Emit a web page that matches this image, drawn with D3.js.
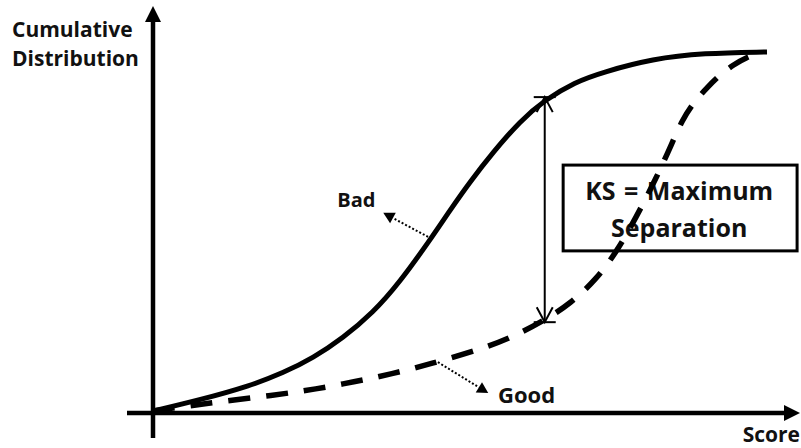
<!DOCTYPE html>
<html>
<head>
<meta charset="utf-8">
<script src="https://cdn.jsdelivr.net/npm/d3@7"></script>
<style>
  body { margin: 0; background: #fff; }
  text { font-family: "Open Sans", "DejaVu Sans", sans-serif; font-weight: bold; fill: #111; }
</style>
</head>
<body>
<script>
// Cumulative distribution of "Bad" accounts (solid line)
var badScore = [0, 7.65, 15.8, 21.2, 26.1, 30.9, 35.8, 40.2, 45.1, 48.4, 51.6, 55.4, 59.8, 63.8, 68.7, 73.3, 81.4, 89.6, 100];
var badCum   = [0, 0.031, 0.070, 0.106, 0.148, 0.203, 0.273, 0.359, 0.476, 0.560, 0.638, 0.721, 0.808, 0.866, 0.916, 0.944, 0.981, 0.997, 1.0];

// Cumulative distribution of "Good" accounts (dashed line)
var goodScore = [0, 7.65, 20.2, 26.5, 32.7, 38.9, 45.1, 53.7, 59.3, 63.8, 67.9, 72.3, 75.6, 78.8, 81.4, 83.7, 86.3, 88.3, 90.2, 92.3, 94.5, 96.7, 98.9];
var goodCum   = [0, 0.019, 0.045, 0.061, 0.081, 0.103, 0.131, 0.173, 0.212, 0.253, 0.298, 0.368, 0.446, 0.543, 0.630, 0.713, 0.816, 0.864, 0.900, 0.936, 0.964, 0.986, 0.997];

// Score where the two curves are farthest apart
var ksScore = 63.8;
var ksBad = 0.866;
var ksGood = 0.253;

// Texts
var yLabel = ["Cumulative", "Distribution"];
var xLabel = "Score";
var ksLabel = ["KS = Maximum", "Separation"];

var w = 801;
var h = 448;

var svg = d3.select("body")
    .append("svg")
    .attr("width", w)
    .attr("height", h);

// Scales: score 0..100 and cumulative 0..1
var xScale = d3.scaleLinear()
    .domain([0, 100])
    .range([153, 767]);
var yScale = d3.scaleLinear()
    .domain([0, 1])
    .range([411, 52]);

// Axes with filled arrow heads
var axisX = xScale(0);
var axisY = yScale(0) + 2;

svg.append("line")
    .attr("x1", axisX).attr("y1", 438)
    .attr("x2", axisX).attr("y2", 20)
    .attr("stroke", "#000").attr("stroke-width", 4.5);
svg.append("path")
    .attr("d", "M" + axisX + ",6 L" + (axisX - 8) + ",22 L" + (axisX + 8) + ",22 Z")
    .attr("fill", "#000");

svg.append("line")
    .attr("x1", 127).attr("y1", axisY)
    .attr("x2", 786).attr("y2", axisY)
    .attr("stroke", "#000").attr("stroke-width", 4.5);
svg.append("path")
    .attr("d", "M800," + axisY + " L784," + (axisY - 8) + " L784," + (axisY + 8) + " Z")
    .attr("fill", "#000");

// Axis labels
svg.selectAll(".ylabel")
    .data(yLabel)
    .enter().append("text")
    .attr("class", "ylabel")
    .attr("x", 12)
    .attr("y", function(d, i) { return 37 + i * 29; })
    .style("font-size", "21px")
    .text(function(d) { return d; });

svg.append("text")
    .attr("x", 800)
    .attr("y", 442)
    .attr("text-anchor", "end")
    .style("font-size", "21px")
    .text(xLabel);

// KS box (drawn before the curves, the dashed line runs over it)
svg.append("rect")
    .attr("x", xScale(66.8))
    .attr("y", yScale(0.685))
    .attr("width", xScale(104.9) - xScale(66.8))
    .attr("height", yScale(0.446) - yScale(0.685))
    .attr("fill", "none")
    .attr("stroke", "#000")
    .attr("stroke-width", 3);

svg.selectAll(".kslabel")
    .data(ksLabel)
    .enter().append("text")
    .attr("class", "kslabel")
    .attr("x", xScale(85.7))
    .attr("y", function(d, i) { return i == 0 ? yScale(0.588) : yScale(0.485); })
    .attr("text-anchor", "middle")
    .style("font-size", "25px")
    .style("word-spacing", "2px")
    .text(function(d) { return d; });

// Curves
var line = d3.line()
    .x(function(d) { return xScale(d[0]); })
    .y(function(d) { return yScale(d[1]); })
    .curve(d3.curveBasis);

var goodData = goodScore.map(function(s, i) { return [s, goodCum[i]]; });
var badData = badScore.map(function(s, i) { return [s, badCum[i]]; });

svg.append("path")
    .datum(goodData)
    .attr("d", line)
    .attr("fill", "none")
    .attr("stroke", "#000")
    .attr("stroke-width", 5.5)
    .attr("stroke-dasharray", "22,16");

svg.append("path")
    .datum(badData)
    .attr("d", line)
    .attr("fill", "none")
    .attr("stroke", "#000")
    .attr("stroke-width", 5);

// Double arrow showing the maximum separation
var kx = xScale(ksScore);
var kTop = yScale(ksBad) - 3;
var kBot = yScale(ksGood) + 2;

svg.append("line")
    .attr("x1", kx).attr("y1", kTop)
    .attr("x2", kx).attr("y2", kBot)
    .attr("stroke", "#000").attr("stroke-width", 2);
[[kTop, 1], [kBot, -1]].forEach(function(e) {
  svg.append("line")
      .attr("x1", kx - 11).attr("y1", e[0])
      .attr("x2", kx + 11).attr("y2", e[0])
      .attr("stroke", "#000").attr("stroke-width", 2);
  svg.append("path")
      .attr("d", "M" + (kx - 8) + "," + (e[0] + 15 * e[1]) + " L" + kx + "," + e[0] +
                 " L" + (kx + 8) + "," + (e[0] + 15 * e[1]))
      .attr("fill", "none")
      .attr("stroke", "#000").attr("stroke-width", 2);
});

// Dotted pointers to "Bad" and "Good"
function pointer(from, to) {
  var x1 = xScale(from[0]), y1 = yScale(from[1]);
  var x2 = xScale(to[0]), y2 = yScale(to[1]);
  var a = Math.atan2(y2 - y1, x2 - x1);
  var len = 11;
  var bx = x2 - len * Math.cos(a), by = y2 - len * Math.sin(a);
  svg.append("line")
      .attr("x1", x1).attr("y1", y1)
      .attr("x2", bx).attr("y2", by)
      .attr("stroke", "#000").attr("stroke-width", 2)
      .attr("stroke-dasharray", "2,2");
  var px = -Math.sin(a) * 6, py = Math.cos(a) * 6;
  svg.append("path")
      .attr("d", "M" + x2 + "," + y2 + " L" + (bx + px) + "," + (by + py) +
                 " L" + (bx - px) + "," + (by - py) + " Z")
      .attr("fill", "#000");
}

pointer([44.8, 0.485], [37.5, 0.552]);
pointer([46.4, 0.136], [54.6, 0.05]);

svg.append("text")
    .attr("x", xScale(30))
    .attr("y", yScale(0.568))
    .style("font-size", "20px")
    .text("Bad");

svg.append("text")
    .attr("x", xScale(56.2))
    .attr("y", yScale(0.022))
    .style("font-size", "22px")
    .text("Good");
</script>
</body>
</html>
